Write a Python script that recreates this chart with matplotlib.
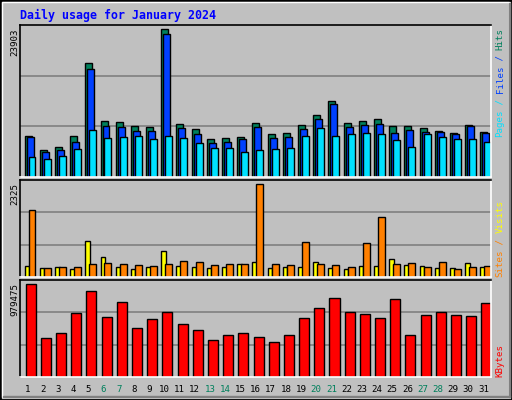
import matplotlib
matplotlib.use("Agg")
import matplotlib.pyplot as plt
from matplotlib.patches import Rectangle
import numpy as np

days = list(range(1, 32))
weekends = [6, 7, 13, 14, 20, 21, 27, 28]
hits = [6544, 4435, 4921, 6544, 18387, 8977, 8815, 8166, 8004, 23903, 8491, 7679, 6057, 6219, 6381,
        8653, 6868, 7030, 8328, 9951, 12222, 8653, 8977, 9302, 8166, 8166, 7842, 7355, 7030, 8328, 7193]
files = [6381, 4110, 4435, 5733, 17414, 8166, 8004, 7355, 7355, 23093, 7842, 6868, 5570, 5733, 6057,
         8004, 6219, 6381, 7679, 9302, 11736, 8004, 8328, 8491, 7030, 7517, 7193, 7193, 6868, 8166, 7030]
pages = [3299, 2974, 3461, 4597, 7517, 6219, 6381, 6544, 6057, 6544, 6219, 5570, 4759, 4759, 4110,
         4435, 4597, 4759, 6544, 7842, 6544, 6868, 7030, 6868, 5895, 4921, 6868, 6381, 6057, 6057, 5733]
sites = [278, 227, 253, 202, 909, 505, 253, 202, 253, 657, 278, 253, 227, 253, 328,
         379, 227, 253, 253, 379, 227, 202, 278, 278, 455, 303, 278, 227, 227, 354, 253]
visits = [1667, 227, 253, 253, 328, 354, 328, 303, 278, 328, 404, 379, 303, 328, 328,
          2325, 328, 303, 884, 328, 303, 253, 859, 1490, 328, 354, 253, 379, 202, 253, 278]
kbytes = [979475, 411125, 464750, 679250, 904475, 636350, 786500, 518375, 614900, 689975, 561275,
          496925, 389675, 443300, 464750, 421850, 368225, 443300, 625625, 722150, 829400, 689975,
          668525, 625625, 818675, 443300, 657800, 689975, 657800, 647075, 775775]

W, H = 512, 400
BG = "#C0C0C0"
fig = plt.figure(figsize=(W / 100, H / 100), dpi=100, facecolor=BG)
mono = "DejaVu Sans Mono"

def fx(px): return px / W
def fy(py): return 1 - py / H

# bevel frame
fig.patches.append(Rectangle((0, 0), 1, 1, transform=fig.transFigure, fill=False, ec="black", lw=2))
fig.patches.append(Rectangle((fx(2), fy(397)), fx(507), 395 / H, transform=fig.transFigure,
                             fill=False, ec="white", lw=1))
fig.patches.append(Rectangle((fx(3), fy(397)), fx(507), 1 / H, transform=fig.transFigure, color="#808080"))
fig.patches.append(Rectangle((fx(509), fy(397)), fx(1), 394 / H, transform=fig.transFigure, color="#808080"))

def mkax(top, bottom):
    ax = fig.add_axes([fx(20), fy(bottom), fx(471), (bottom - top) / H])
    ax.set_facecolor(BG)
    ax.set_xlim(0.5, 31.5)
    ax.set_xticks([]); ax.set_yticks([])
    for s in ["left", "top"]:
        ax.spines[s].set_color("black"); ax.spines[s].set_linewidth(1.2)
    for s in ["right", "bottom"]:
        ax.spines[s].set_color("white"); ax.spines[s].set_linewidth(1.2)
    return ax

def grid(ax, top):
    for f in (1 / 3, 2 / 3):
        ax.axhline(top * f, color="#808080", lw=1.2, zorder=0.5)

x = np.array(days)
ax1 = mkax(25, 177)
top1 = max(hits) * 152 / 148
ax1.set_ylim(0, top1); grid(ax1, top1)
kw = dict(align="edge", edgecolor="black", linewidth=1, zorder=2)
ax1.bar(x - 0.2, hits, 0.46, color="#00805C", **kw)
ax1.bar(x - 0.07, files, 0.46, color="#0040FF", **kw)
ax1.bar(x + 0.06, pages, 0.46, color="#00E0FF", **kw)

ax2 = mkax(180, 277)
top2 = max(visits) * 287 / 276
ax2.set_ylim(0, top2); grid(ax2, top2)
ax2.bar(x - 0.2, sites, 0.3, color="#FFFF00", **kw)
ax2.bar(x + 0.06, visits, 0.46, color="#FF8000", **kw)

ax3 = mkax(280, 377)
top3 = max(kbytes) * 286 / 274
ax3.set_ylim(0, top3); grid(ax3, top3)
ax3.bar(x - 0.13, kbytes, 0.66, color="#FF0000", **kw)

fig.text(fx(20), fy(15), "Daily usage for January 2024", color="#0000FF", fontsize=8.4,
         fontweight="bold", family=mono, va="center", ha="left")

for d in days:
    fig.text(fx(20 + (d - 0.5) * 471 / 31), fy(389), str(d), fontsize=6.6, family=mono,
             ha="center", va="center", color="#00805C" if d in weekends else "black")

fs = 6.6
fig.text(fx(15), fy(28), str(max(hits)), rotation=90, fontsize=fs, family=mono, ha="center", va="top")
fig.text(fx(15), fy(183), str(max(visits)), rotation=90, fontsize=fs, family=mono, ha="center", va="top")
fig.text(fx(15), fy(283), str(max(kbytes)), rotation=90, fontsize=fs, family=mono, ha="center", va="top")

CH = 5.45
def rlabel(bottom, parts):
    y = bottom
    for s, c in parts:
        fig.text(fx(500), fy(y), s, rotation=90, fontsize=fs, family=mono, color=c,
                 ha="center", va="bottom")
        y -= len(s) * CH

rlabel(137, [("Pages", "#00E0FF"), (" / ", "#00E0FF"), ("Files", "#0040FF"), (" / ", "#0040FF"), ("Hits", "#00805C")])
rlabel(277, [("Sites", "#FF8000"), (" / ", "#FF8000"), ("Visits", "#FFFF00")])
rlabel(377, [("KBytes", "#FF0000")])

fig.savefig("out.png", dpi=100, facecolor=BG)
